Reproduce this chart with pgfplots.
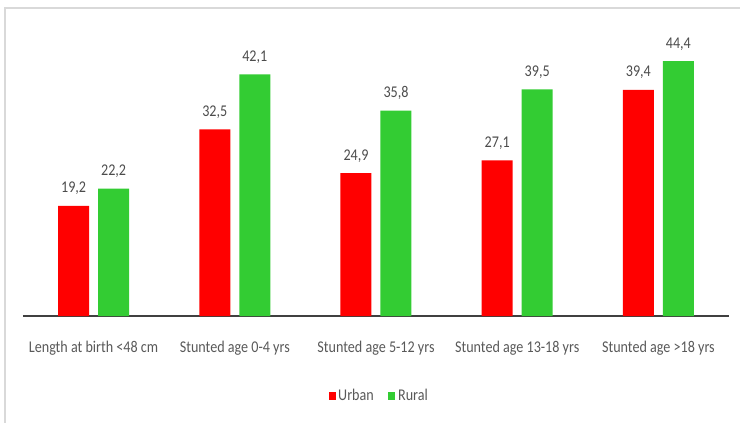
\documentclass[border=0pt]{standalone}
\usepackage{fontspec}
\setmainfont{Carlito}[FakeStretch=0.86]
\usepackage{pgfplots}
\pgfplotsset{compat=1.18}
\definecolor{urban}{HTML}{FF0000}
\definecolor{rural}{HTML}{33CC33}
\definecolor{txt}{HTML}{595959}
\definecolor{frame}{HTML}{D9D9D9}

\begin{document}
\begin{tikzpicture}[x=1pt,y=1pt]
% page area and the light chart frame
\clip (-17.25,-79.5) rectangle (537.75,237);
\draw[frame, line width=0.9pt] (-13.5,-120) rectangle (580,231);
\begin{axis}[
  at={(0,0)}, anchor=south west,
  scale only axis,
  width=529.5pt, height=215.25pt,
  xmin=-0.5, xmax=4.5, ymin=0, ymax=50,
  ybar, bar width=23.25pt,
  axis y line=none,
  axis x line*=bottom,
  x axis line style={-, draw=black!75, line width=0.8pt},
  xtick=data, major tick length=0pt,
  xticklabels={Length at birth <48 cm, Stunted age 0-4 yrs, Stunted age 5-12 yrs, Stunted age 13-18 yrs, Stunted age >18 yrs},
  xticklabel style={font=\fontsize{12.3}{14}\selectfont, text=txt, inner sep=0pt, anchor=north, yshift=-18.5pt},
  nodes near coords={\pgfmathprintnumber[assume math mode=true,use comma,fixed,fixed zerofill,precision=1]{\pgfplotspointmeta}},
  every node near coord/.append style={font=\fontsize{12.3}{14}\selectfont, text=txt!85!black, anchor=base, inner sep=0pt, yshift=9.75pt},
  legend style={at={(0.505,-0.279)}, anchor=center, draw=none, fill=none,
    legend columns=2, font=\fontsize{12.3}{14}\selectfont, text=txt,
    /tikz/every even column/.append style={column sep=9pt},
    cells={inner sep=0pt}},
  legend image code/.code={\fill[#1] (0pt,-3.25pt) rectangle (5.25pt,3.25pt);},
]
\addplot[fill=urban, draw=none, bar shift=-15pt] coordinates {(0,19.2) (1,32.5) (2,24.9) (3,27.1) (4,39.4)};
\addplot[fill=rural, draw=none, bar shift=15pt] coordinates {(0,22.2) (1,42.1) (2,35.8) (3,39.5) (4,44.4)};
\legend{Urban, Rural}
\end{axis}
\end{tikzpicture}
\end{document}
